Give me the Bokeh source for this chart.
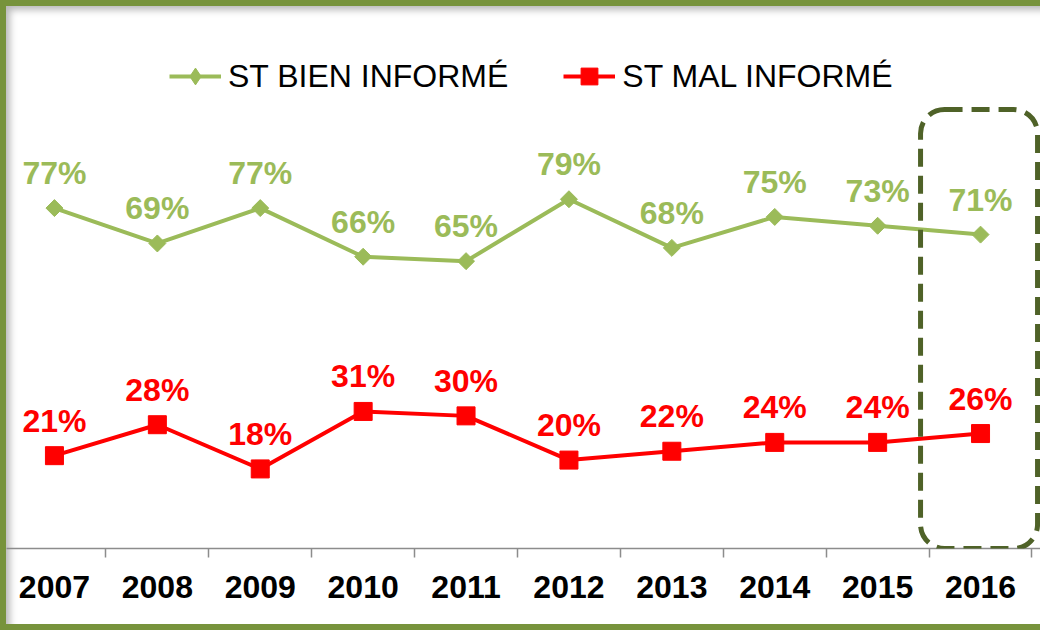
import math
from bokeh.plotting import figure
from bokeh.models import ColumnDataSource, Legend, LegendItem, FixedTicker, BoxAnnotation, Range1d
from bokeh.core.properties import value
from bokeh.embed import file_html
from bokeh.resources import INLINE

years = ["2007", "2008", "2009", "2010", "2011", "2012", "2013", "2014", "2015", "2016"]
bien = [77, 69, 77, 66, 65, 79, 68, 75, 73, 71]
mal = [21, 28, 18, 31, 30, 20, 22, 24, 24, 26]
series_names = ["ST BIEN INFORMÉ", "ST MAL INFORMÉ"]
highlight_year = "2016"

GREEN = "#9BBB59"
RED = "#FF0000"
FRAME = "#77933C"
DARK = "#4F6228"
FONT = "Liberation Sans"

W, H = 1040, 630

x = list(range(len(years)))
src = ColumnDataSource(dict(
    x=x, bien=bien, mal=mal,
    bien_lbl=[f"{v}%" for v in bien],
    mal_lbl=[f"{v}%" for v in mal],
))

p = figure(width=W, height=H, output_backend="svg", toolbar_location=None,
           x_range=Range1d(-0.466, 9.641), y_range=Range1d(0, 122.6),
           min_border_left=0, min_border_right=0, min_border_top=0, min_border_bottom=88)
p.styles = {
    "border-left": f"6px solid {FRAME}",
    "border-top": f"6px solid {FRAME}",
    "border-bottom": f"6px solid {FRAME}",
    "background-color": "white",
    "box-shadow": "inset 6px 6px 7px -2px rgba(0,0,0,0.28)",
    "overflow": "hidden",
}
p.outline_line_color = None
p.grid.visible = False
p.yaxis.visible = False
p.background_fill_color = None
p.border_fill_color = None

# lines and markers
l1 = p.line("x", "bien", source=src, line_color=GREEN, line_width=4)
m1 = p.scatter("x", "bien", source=src, marker="square", size=12, angle=math.pi / 4,
               fill_color=GREEN, line_color=GREEN)
l2 = p.line("x", "mal", source=src, line_color=RED, line_width=4)
m2 = p.scatter("x", "mal", source=src, marker="square", size=18,
               fill_color=RED, line_color=RED)

# legend-only diamond symbol (not drawn in the plot: NaN position)
leg_diamond = p.scatter(x=[float("nan")], y=[float("nan")], marker="diamond", size=21,
                        fill_color=GREEN, line_color=GREEN)

# data labels
p.text("x", "bien", text="bien_lbl", source=src, text_color=GREEN, y_offset=-35,
       text_align="center", text_baseline="middle", text_font=value(FONT),
       text_font_style="bold", text_font_size="32px")
p.text("x", "mal", text="mal_lbl", source=src, text_color=RED, y_offset=-35,
       text_align="center", text_baseline="middle", text_font=value(FONT),
       text_font_style="bold", text_font_size="32px")

# highlight box around last year
hi = years.index(highlight_year)
box = BoxAnnotation(left=hi - 0.583, right=hi + 0.554, bottom=0, top=99.3,
                    fill_alpha=0, line_color=DARK, line_alpha=1, line_width=5,
                    line_dash="18 9", border_radius=24)
p.add_layout(box)

# x axis
p.xaxis.ticker = FixedTicker(ticks=x, minor_ticks=[i + 0.5 for i in x[:-1]] + [-0.5, 9.5])
p.xaxis.major_label_overrides = {i: y for i, y in zip(x, years)}
p.xaxis.major_tick_line_color = None
p.xaxis.minor_tick_in = 0
p.xaxis.minor_tick_out = 9
p.xaxis.minor_tick_line_color = "#8C8C8C"
p.xaxis.minor_tick_line_width = 1.5
p.xaxis.axis_line_color = "#8C8C8C"
p.xaxis.axis_line_width = 1.5
p.xaxis.major_label_text_font = FONT
p.xaxis.major_label_text_font_style = "bold"
p.xaxis.major_label_text_font_size = "32px"
p.xaxis.major_label_text_color = "black"
p.xaxis.major_label_standoff = 18

legend = Legend(items=[LegendItem(label=series_names[0], renderers=[l1, leg_diamond]),
                       LegendItem(label=series_names[1], renderers=[l2, m2])],
                location=(163, 451), orientation="horizontal",
                label_text_font=FONT, label_text_font_size="32px", label_text_color="black",
                glyph_width=52, glyph_height=42, label_standoff=7, spacing=55,
                padding=0, margin=0, border_line_color=None, background_fill_alpha=0)
p.add_layout(legend, "center")

open("out.html", "w").write(file_html(p, INLINE))
